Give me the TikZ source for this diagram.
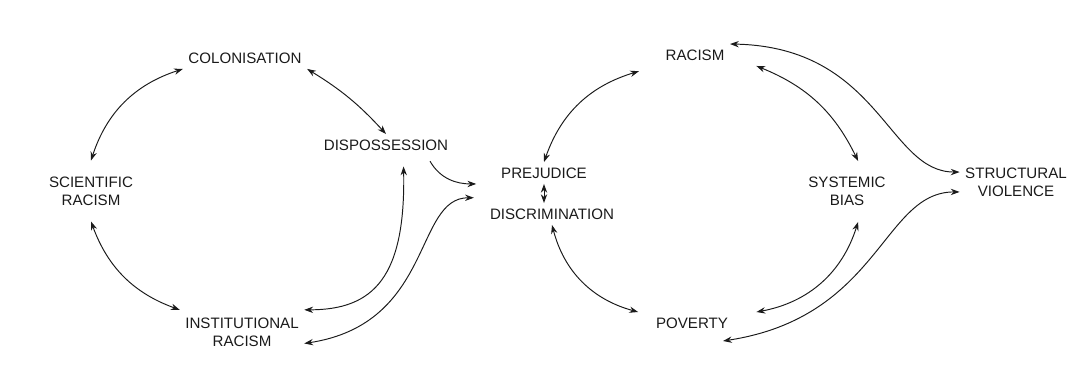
\documentclass[tikz,border=0pt]{standalone}
\usepackage{fontspec}
\setmainfont{Liberation Sans}
\usepackage{xcolor}
\usepackage{tikz}
\usetikzlibrary{arrows.meta}
\definecolor{ink}{HTML}{1A1A1A}
\tikzset{
  lbl/.style={text=ink, font=\fontsize{8.6}{10.2}\selectfont, inner sep=3pt},
  lbltwo/.style={lbl, align=center, inner ysep=9pt},
  link/.style={draw=ink, line width=0.55pt, <->},
  onelink/.style={draw=ink, line width=0.55pt, ->},
}

\begin{document}
\begin{tikzpicture}[x=0.02cm, y=0.02cm, >={Stealth[length=5pt,width=3.6pt]}]
  \useasboundingbox (0,0) rectangle (1071,377);
  % left cycle
  \node[lbl] (col) at (245,319) {COLONISATION};
  \node[lbl] (disp) at (386,232) {DISPOSSESSION};
  \node[lbltwo] (sci) at (91,186) {SCIENTIFIC\\RACISM};
  \node[lbltwo] (inst) at (242,44.5) {INSTITUTIONAL\\RACISM};
  % middle
  \node[lbl] (prej) at (544,204) {PREJUDICE};
  \node[lbl] (disc) at (552,163) {DISCRIMINATION};
  % right cycle
  \node[lbl] (rac) at (695,322) {RACISM};
  \node[lbltwo] (sys) at (847,185.5) {SYSTEMIC\\BIAS};
  \node[lbl] (pov) at (692,54) {POVERTY};
  \node[lbltwo] (sv) at (1016,195) {STRUCTURAL\\VIOLENCE};

  \draw[link] (col.south west) to[bend right=27] (sci.north);
  \draw[link] (col.south east) to[bend left=8] (disp.north);
  \draw[link] (sci.south) to[bend right=25] (inst.160);
  \draw[link] ([shift={(10pt,-6pt)}]disp.south) .. controls +(2,-110) and +(70,0) .. (inst.20);
  \draw[link] (inst.-10) .. controls +(130,20) and +(-60,0) .. ([shift={(-6pt,3pt)}]disc.north west);
  \draw[onelink] ([yshift=-3pt]disp.-14) to[out=-60,in=180] ([xshift=-11pt]prej.south west);
  \draw[link] (prej.south) -- (prej.south |- disc.north);

  \draw[link] (prej.north) to[bend left=27] ([shift={(-12pt,-3pt)}]rac.south west);
  \draw[link] (disc.south) to[bend right=30] ([xshift=-7pt]pov.north west);
  \draw[link] ([xshift=15pt]rac.south east) to[bend left=21] (sys.70);
  \draw[link] (sys.-70) to[bend left=31] ([xshift=13pt]pov.north east);
  \draw[link] (rac.north east) .. controls +(150,-3) and +(-72,0) .. (sv.170);
  \draw[link] ([shift={(-6pt,-4pt)}]pov.south east) .. controls +(157,24) and +(-77,0) .. (sv.190);
\end{tikzpicture}
\end{document}
